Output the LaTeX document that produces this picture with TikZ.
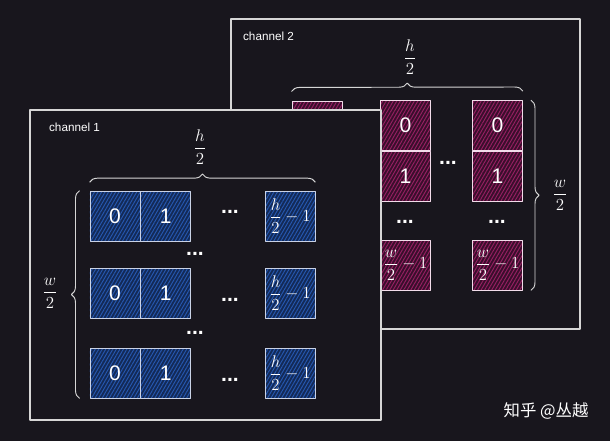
\documentclass[tikz,border=0pt]{standalone}
\usepackage{amsmath}
\usepackage{xcolor}
\usepackage{tikz}
\usepackage{fontspec}
\newfontfamily\cellfont{Liberation Sans}
\newfontfamily\cjkfont{Noto Sans CJK SC}
\usetikzlibrary{positioning,patterns.meta,decorations.pathreplacing}

\definecolor{bgdark}{HTML}{18161D}
\definecolor{framegray}{HTML}{D6D6D6}
\definecolor{bluefill}{HTML}{132A57}
\definecolor{bluehatch}{HTML}{2658B0}
\definecolor{blueedge}{HTML}{C9D2E6}
\definecolor{pinkfill}{HTML}{3A0E2C}
\definecolor{pinkhatch}{HTML}{962062}
\definecolor{pinkedge}{HTML}{F2DCEA}

\begin{document}
\begin{tikzpicture}[
    x=0.03cm, y=-0.03cm,
    line join=round,
    frame/.style={draw=framegray, line width=0.9pt, fill=bgdark},
    cell/.style={line width=0.7pt, minimum size=1.5cm, inner sep=0pt, text=white, font=\cellfont\fontsize{18}{20}\selectfont},
    blue cell/.style={cell, draw=blueedge, preaction={fill=bluefill}, pattern={Lines[angle=60,distance=2.6pt,line width=0.8pt]}, pattern color=bluehatch},
    pink cell/.style={cell, draw=pinkedge, preaction={fill=pinkfill}, pattern={Lines[angle=60,distance=2.6pt,line width=0.8pt]}, pattern color=pinkhatch},
    last cell/.append style={font=\fontsize{14}{16}\selectfont},
    dots/.style={text=white, font=\cellfont\bfseries\fontsize{18}{20}\selectfont},
    brace/.style={draw=framegray, line width=0.8pt, decorate, decoration={brace, amplitude=7pt}},
    label/.style={text=white, font=\fontsize{14}{16}\selectfont},
    title/.style={text=white, anchor=west, font=\cellfont\fontsize{10}{12}\selectfont}
]
    \fill[bgdark] (0,0) rectangle (610,441);

    % channel 2
    \draw[frame] (231,19) rectangle (580,329);
    \node[title] (t2) at (239,36) {channel 2};
    \node[pink cell] (p0) at (317,126) {};
    \node[pink cell] (pa0) at (405.5,125.5) {0};
    \node[pink cell, below=0pt of pa0] (pa1) {1};
    \node[pink cell, last cell] (paz) at (405.5,265) {$\dfrac{w}{2}-1$};
    \node[pink cell] (pb0) at (497.5,125.5) {0};
    \node[pink cell, below=0pt of pb0] (pb1) {1};
    \node[pink cell, last cell] (pbz) at (497.5,265) {$\dfrac{w}{2}-1$};
    \node[dots] (pd1) at (448,163) {...};
    \node[dots] (pd2) at (405,222) {...};
    \node[dots] (pd3) at (497,222) {...};
    \draw[brace] ([yshift=0.27cm]p0.north west) -- ([yshift=0.27cm]pb0.north east);
    \draw[brace] ([xshift=0.24cm]pb0.north east) -- ([xshift=0.24cm]pbz.south east);
    \node[label] (ph) at (410,57) {$\dfrac{h}{2}$};
    \node[label] (pw) at (560,195) {$\dfrac{w}{2}$};

    % channel 1
    \draw[frame] (30,110) rectangle (381,420);
    \node[title] (t1) at (45,127) {channel 1};
    \node[blue cell] (r1a) at (115,216) {0};
    \node[blue cell, right=0pt of r1a] (r1b) {1};
    \node[blue cell, last cell] (r1z) at (290,216) {$\dfrac{h}{2}-1$};
    \node[blue cell] (r2a) at (115,293) {0};
    \node[blue cell, right=0pt of r2a] (r2b) {1};
    \node[blue cell, last cell] (r2z) at (290,293) {$\dfrac{h}{2}-1$};
    \node[blue cell] (r3a) at (115,373) {0};
    \node[blue cell, right=0pt of r3a] (r3b) {1};
    \node[blue cell, last cell] (r3z) at (290,373) {$\dfrac{h}{2}-1$};
    \node[dots] (d1) at (230,212) {...};
    \node[dots] (d2) at (230,300) {...};
    \node[dots] (d3) at (230,380) {...};
    \node[dots] (d4) at (195,254) {...};
    \node[dots] (d5) at (195,333) {...};
    \draw[brace] ([yshift=0.25cm]r1a.north west) -- ([yshift=0.25cm]r1z.north east);
    \draw[brace] ([xshift=-0.3cm]r3a.south west) -- ([xshift=-0.3cm]r1a.north west);
    \node[label] (bh) at (200,147) {$\dfrac{h}{2}$};
    \node[label] (bw) at (50,293) {$\dfrac{w}{2}$};

    \node[text=white, font=\cjkfont\fontsize{14}{16}\selectfont] (mark) at (546,411) {知乎 @丛越};
\end{tikzpicture}
\end{document}
